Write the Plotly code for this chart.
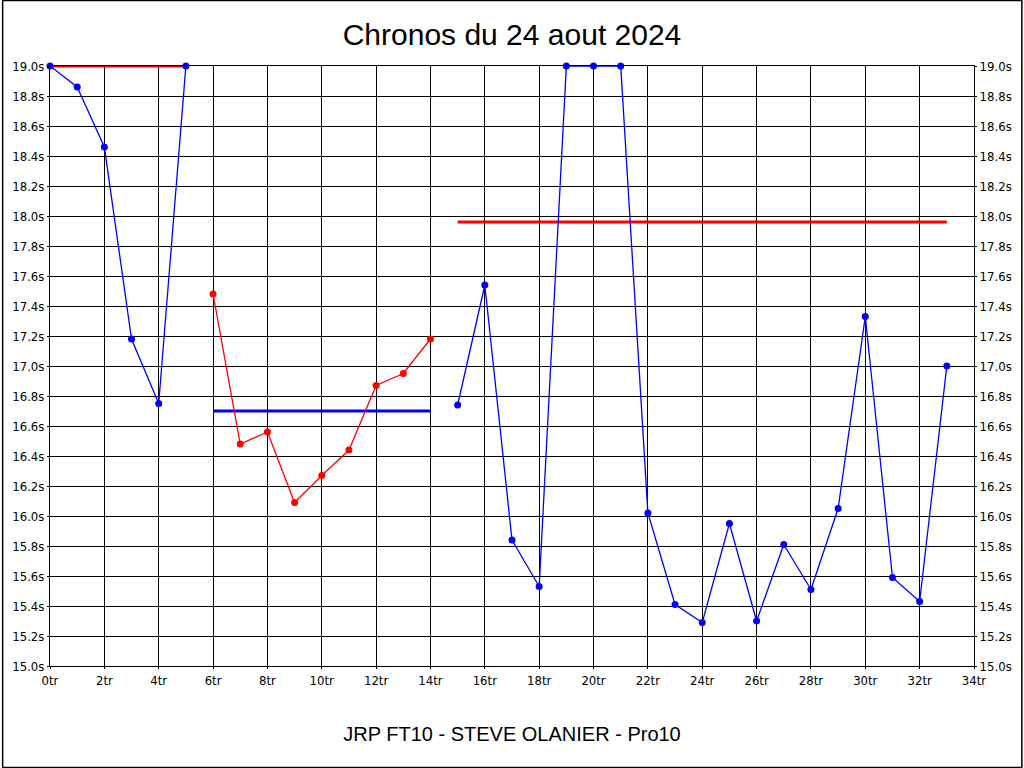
import plotly.graph_objects as go

title = "Chronos du 24 aout 2024"
xtitle = "JRP FT10 - STEVE OLANIER - Pro10"

laps1 = [0, 1, 2, 3, 4, 5]
times1 = [19.0, 18.86, 18.46, 17.18, 16.75, 19.0]
laps2 = [6, 7, 8, 9, 10, 11, 12, 13, 14]
times2 = [17.48, 16.48, 16.56, 16.09, 16.27, 16.44, 16.87, 16.95, 17.18]
laps3 = list(range(15, 34))
times3 = [16.74, 17.54, 15.84, 15.53, 19.0, 19.0, 19.0, 16.02, 15.41, 15.29,
          15.95, 15.30, 15.81, 15.51, 16.05, 17.33, 15.59, 15.43, 17.0]

avg_x = [[0, 5], [6, 14], [15, 33]]
avg_y = [19.0, 16.70, 17.96]
series_colors = ["#0000FF", "#FF0000", "#0000FF"]
avg_colors = ["#FF0000", "#0000FF", "#FF0000"]

fig = go.Figure()
for ax, ay, c in zip(avg_x, avg_y, avg_colors):
    fig.add_trace(go.Scatter(x=ax, y=[ay, ay], mode="lines",
                             line=dict(color=c, width=3), showlegend=False,
                             cliponaxis=False))
for lx, ly, c in zip([laps1, laps2, laps3], [times1, times2, times3], series_colors):
    fig.add_trace(go.Scatter(x=lx, y=ly, mode="lines+markers",
                             line=dict(color=c, width=1.3),
                             marker=dict(color=c, size=7), showlegend=False,
                             cliponaxis=False))
# invisible trace for right axis
fig.add_trace(go.Scatter(x=[0], y=[15.0], yaxis="y2", mode="markers",
                         marker=dict(opacity=0), showlegend=False, hoverinfo="skip"))

W, H = 1024, 768
L, R, T, B = 48, 49, 66, 102
pw, ph = W - L - R, H - T - B

tickfont = dict(family="DejaVu Sans Condensed, Liberation Sans Narrow, Arial Narrow, sans-serif",
                size=13, color="#000000")

fig.update_layout(
    width=W, height=H,
    margin=dict(l=L, r=R, t=T, b=B),
    paper_bgcolor="white", plot_bgcolor="white",
    title=dict(text=title, x=0.5, xanchor="center", y=1 - 34 / H, yanchor="middle",
               font=dict(family="Liberation Sans, Arial, sans-serif", size=30, color="black")),
    xaxis=dict(range=[0, 34], dtick=2, tick0=0, ticksuffix="tr",
               showgrid=True, gridcolor="black", gridwidth=1,
               showline=True, linecolor="black", linewidth=1, mirror=True,
               ticks="outside", ticklen=2, tickcolor="black",
               tickfont=tickfont, zeroline=False,
               title=dict(text=xtitle, standoff=40,
                          font=dict(family="Liberation Sans, Arial, sans-serif", size=20, color="black"))),
    yaxis=dict(range=[15.0, 19.0], dtick=0.2, tick0=15.0, tickformat=".1f", ticksuffix="s",
               showgrid=True, gridcolor="black", gridwidth=1,
               showline=True, linecolor="black", linewidth=1, mirror=True,
               ticks="outside", ticklen=2, tickcolor="black",
               tickfont=tickfont, zeroline=False),
    yaxis2=dict(range=[15.0, 19.0], dtick=0.2, tick0=15.0, tickformat=".1f", ticksuffix="s",
                overlaying="y", side="right", showgrid=False,
                ticks="outside", ticklen=2, tickcolor="black",
                tickfont=tickfont, zeroline=False),
    shapes=[dict(type="rect", xref="paper", yref="paper",
                 x0=-L / pw + 0.5 / pw, x1=1 + (R - 1) / pw,
                 y0=-B / ph + 0.5 / ph, y1=1 + (T - 0.5) / ph,
                 line=dict(color="black", width=1.5), fillcolor="rgba(0,0,0,0)")],
)

fig.write_html("out.html", config={"displayModeBar": False},
               post_script="document.body.style.margin='0';document.body.style.overflow='hidden';")
